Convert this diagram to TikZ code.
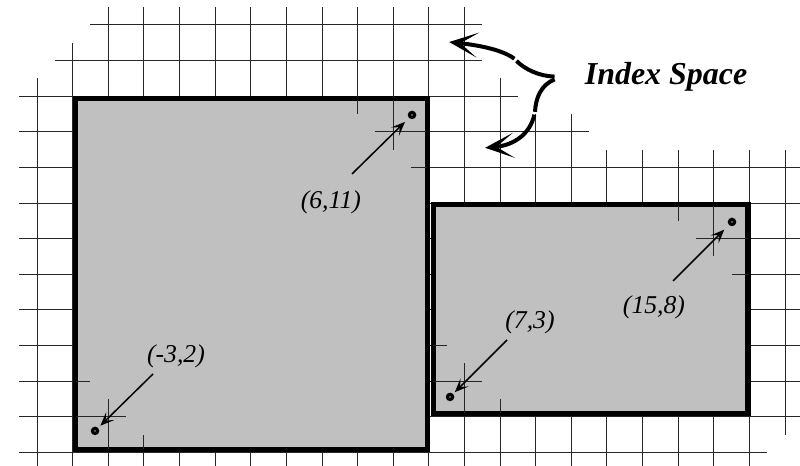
\documentclass[tikz,border=0pt]{standalone}
\usepackage{fontspec}
\setmainfont{Liberation Serif}
\usetikzlibrary{arrows.meta}
\definecolor{boxgray}{RGB}{192,192,192}
\begin{document}
\begin{tikzpicture}[x=1cm,y=1cm,
  gridline/.style={line width=0.75pt, draw=black!85},
  region/.style={fill=boxgray, draw=black, line width=0.145cm},
  dotmark/.style={circle, draw=black, fill=black!55, line width=2.4pt, minimum size=0.15cm, inner sep=0pt},
  ptlabel/.style={font=\fontsize{20.5}{24}\selectfont\itshape, anchor=base, inner sep=0pt},
  ptarrow/.style={-{Stealth[length=11pt,width=9pt,inset=5pt]}, line width=1.2pt},
  bracestroke/.style={line width=3.2pt, line cap=butt},
  bracearrow/.style={bracestroke, -{Stealth[length=23pt,width=20pt,inset=14pt]}},
  titlefont/.style={font=\fontsize{25.5}{30}\selectfont\bfseries\itshape, anchor=base, inner sep=0pt}
]
\useasboundingbox (-5.04,1.62) rectangle (17.42,14.70);
\clip (-5.04,1.62) rectangle (17.42,14.70);

% ---- index space grid ----
\draw[gridline] (-2.5,14) -- (8.5,14);
\draw[gridline] (-3.5,13) -- (8.5,13);
\draw[gridline] (-4.5,12) -- (9.5,12);
\draw[gridline] (-4.5,11) -- (11.5,11);
\foreach \y in {3,...,10} \draw[gridline] (-4.5,\y) -- (17.8,\y);
\draw[gridline] (-4.5,2) -- (16.5,2);
\draw[gridline] (-4,12.5) -- (-4,1.3);
\draw[gridline] (-3,13.5) -- (-3,1.3);
\foreach \x in {-2,...,8} \draw[gridline] (\x,14.5) -- (\x,1.3);
\draw[gridline] (9,12.5) -- (9,1.3);
\foreach \x in {10,11} \draw[gridline] (\x,11.5) -- (\x,1.3);
\foreach \x in {12,...,16} \draw[gridline] (\x,10.5) -- (\x,1.3);
\draw[gridline] (17,10.5) -- (17,2.5);

% ---- boxes ----
\draw[region] (-2.91,2.09) rectangle (6.955,11.94);
\draw[region] (7.13,3.08) rectangle (15.96,8.955);

% ---- grid fragments inside the boxes ----
% near (-3,2)
\draw[gridline] (-2,2.1) -- (-2,3.5);
\draw[gridline] (-1,2.1) -- (-1,2.5);
\draw[gridline] (-2.9,3) -- (-1.5,3);
\draw[gridline] (-2.9,4) -- (-2.5,4);
% near (6,11)
\draw[gridline] (6,11.9) -- (6,10.5);
\draw[gridline] (5,11.9) -- (5,11.5);
\draw[gridline] (6.95,11) -- (5.5,11);
\draw[gridline] (6.95,10) -- (6.5,10);
% near (7,3)
\draw[gridline] (8,3.1) -- (8,4.5);
\draw[gridline] (9,3.1) -- (9,3.5);
\draw[gridline] (7.13,4) -- (8.5,4);
\draw[gridline] (7.13,5) -- (7.5,5);
% near (15,8)
\draw[gridline] (15,8.95) -- (15,7.5);
\draw[gridline] (14,8.95) -- (14,8.5);
\draw[gridline] (15.96,8) -- (14.5,8);
\draw[gridline] (15.96,7) -- (15.5,7);

% ---- points ----
\node[dotmark] (d1) at (-2.372,2.602) {};
\node[dotmark] (d2) at (6.528,11.473) {};
\node[dotmark] (d3) at (7.595,3.556) {};
\node[dotmark] (d4) at (15.511,8.469) {};

% ---- labels ----
\node[ptlabel] (l1) at (-0.10,4.51) {(-3,2)};
\node[ptlabel] (l2) at (4.25,8.86) {(6,11)};
\node[ptlabel] (l3) at (9.84,5.49) {(7,3)};
\node[ptlabel] (l4) at (13.32,5.89) {(15,8)};

\coordinate (a1) at (-0.743,4.202);
\coordinate (a2) at (4.843,9.817);
\coordinate (a3) at (9.195,5.157);
\coordinate (a4) at (13.855,6.813);

\draw[ptarrow, shorten >=0.09cm] (a1) -- (d1);
\draw[ptarrow, shorten >=0.16cm] (a2) -- (d2);
\draw[ptarrow, shorten >=0.07cm] (a3) -- (d3);
\draw[ptarrow, shorten >=0.19cm] (a4) -- (d4);

% ---- Index Space callout ----
\node[titlefont] (title) at (13.66,12.32) {Index Space};
\draw[bracestroke] (10.53,12.55) .. controls (10.1,12.56) and (9.7,12.75) .. (9.46,12.99);
\draw[bracearrow] (9.40,13.05) .. controls (9.1,13.28) and (8.5,13.42) .. (7.57,13.52);
\draw[bracestroke] (10.53,12.47) .. controls (10.15,12.32) and (10.0,11.95) .. (9.98,11.56);
\draw[bracearrow] (9.96,11.48) .. controls (9.85,10.95) and (9.4,10.62) .. (8.58,10.55);
\end{tikzpicture}
\end{document}
